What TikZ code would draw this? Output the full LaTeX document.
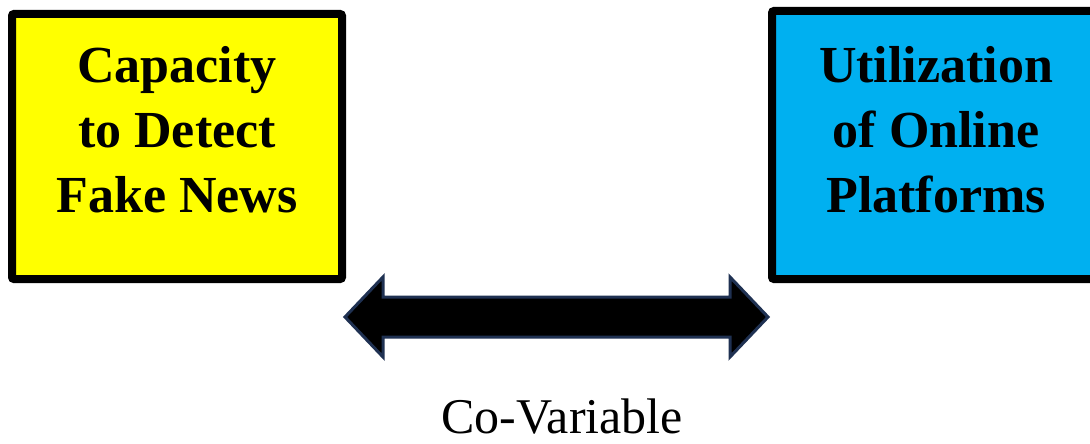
\documentclass[tikz,border=0pt]{standalone}
\usepackage{fontspec}
\setmainfont{Liberation Serif}
\usetikzlibrary{calc}
\definecolor{boxyellow}{HTML}{FFFF00}
\definecolor{boxblue}{HTML}{00B0F0}
\definecolor{arrowedge}{HTML}{1F3152}
\tikzset{
  varbox/.style={draw=black, line width=8pt, rounded corners=2pt},
  boxtext/.style={font=\fontsize{52}{65}\selectfont\bfseries, align=center, inner sep=0pt},
  covar/.style={draw=arrowedge, fill=black, line width=3pt, line join=miter},
}
\begin{document}
\begin{tikzpicture}[x=1pt,y=-1pt]
\useasboundingbox (0,0) rectangle (1090,444);
\clip (0,0) rectangle (1090,444);
\fill[white] (0,0) rectangle (1090,444);
% boxes
\draw[varbox, fill=boxyellow] (12,14) rectangle (342,279);
\draw[varbox, fill=boxblue] (772,11) rectangle (1110,279);
\node[boxtext, anchor=base] (cap) at (177,82) {Capacity};
\node[boxtext, anchor=base] (det) at (177,147) {to Detect};
\node[boxtext, anchor=base] (fak) at (177,212) {Fake News};
\node[boxtext, anchor=base] (uti) at (936,82) {Utilization};
\node[boxtext, anchor=base] (onl) at (936,147) {of Online};
\node[boxtext, anchor=base] (pla) at (936,212) {Platforms};
% double arrow
\coordinate (lt) at (345,317);
\coordinate (rt) at (768,317);
\draw[covar] (lt) -- ($(lt)+(38,-40)$) -- ($(lt)+(38,-20)$) -- ($(rt)+(-38,-20)$) -- ($(rt)+(-38,-40)$) -- (rt)
  -- ($(rt)+(-38,40)$) -- ($(rt)+(-38,20)$) -- ($(lt)+(38,20)$) -- ($(lt)+(38,40)$) -- cycle;
\node[anchor=base, inner sep=0pt, font=\fontsize{50}{52}\selectfont] (cv) at (562,433) {Co-Variable};
\end{tikzpicture}
\end{document}
